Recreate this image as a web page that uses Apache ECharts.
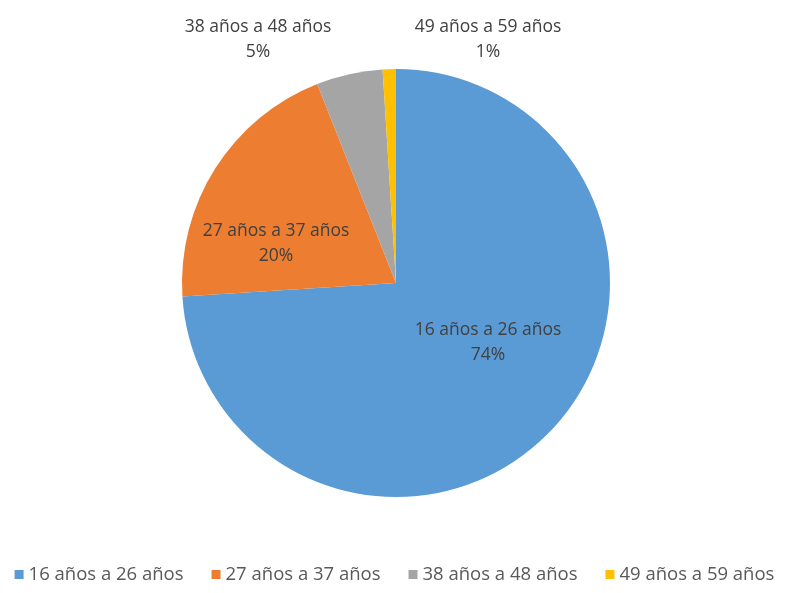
<!DOCTYPE html>
<html><head><meta charset="utf-8">
<script src="https://cdn.jsdelivr.net/npm/echarts@6/dist/echarts.min.js"></script>
<style>html,body{margin:0;padding:0;background:#fff}#c{width:789px;height:593px}</style>
</head><body><div id="c"></div>
<script>
const categories = ['16 años a 26 años', '27 años a 37 años', '38 años a 48 años', '49 años a 59 años'];
const values = [74, 20, 5, 1];
const colors = ['#5B9BD5', '#ED7D31', '#A5A5A5', '#FFC000'];
const labelPos = [[488, 343], [276, 244], [258, 40], [488, 40]];

const chart = echarts.init(document.getElementById('c'));
chart.setOption({
  animation: false,
  color: colors,
  legend: {
    bottom: 4,
    left: 'center',
    itemWidth: 9, itemHeight: 9, icon: 'rect', itemGap: 28,
    textStyle: {fontFamily: 'Open Sans', fontSize: 18.5, color: '#595959'},
    data: categories
  },
  series: [{
    type: 'pie',
    center: [396, 283],
    radius: 214,
    startAngle: 90,
    clockwise: true,
    label: {
      position: 'inside',
      fontFamily: 'Open Sans', fontSize: 17.5, color: '#404040', lineHeight: 25,
      formatter: p => p.name + '\n' + Math.round(p.percent) + '%'
    },
    labelLine: {show: false},
    labelLayout: p => ({x: labelPos[p.dataIndex][0], y: labelPos[p.dataIndex][1], align: 'center', verticalAlign: 'middle'}),
    data: categories.map((c, i) => ({name: c, value: values[i]}))
  }]
});
</script></body></html>
